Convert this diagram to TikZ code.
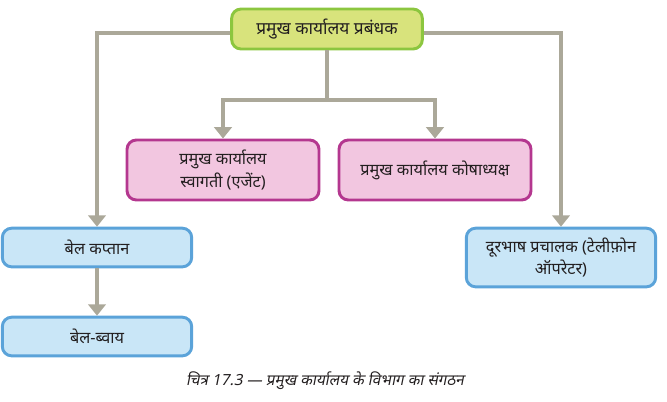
\documentclass[tikz,border=0pt]{standalone}
\usepackage{fontspec}
\newfontfamily\deva[Script=Devanagari]{Noto Sans}
\newfontfamily\devaslant[Script=Devanagari,FakeSlant=0.2]{Noto Sans}
\usetikzlibrary{arrows.meta}
\definecolor{topfill}{HTML}{D8E37C}
\definecolor{topdraw}{HTML}{8CC63F}
\definecolor{pinkfill}{HTML}{F2C6E0}
\definecolor{pinkdraw}{HTML}{B4378F}
\definecolor{bluefill}{HTML}{C9E6F7}
\definecolor{bluedraw}{HTML}{5BA3D9}
\definecolor{linecol}{HTML}{ABA899}
\definecolor{txt}{HTML}{231F20}
\tikzset{
  box/.style={rounded corners=7pt, line width=2.2pt, align=center, inner sep=0pt, font=\deva\fontsize{12.2}{17}\selectfont, text=txt},
  topbox/.style={box, fill=topfill, draw=topdraw, font=\deva\bfseries\fontsize{13}{17}\selectfont},
  pinkbox/.style={box, fill=pinkfill, draw=pinkdraw},
  bluebox/.style={box, fill=bluefill, draw=bluedraw},
  conn/.style={draw=linecol, line width=2.4pt},
  arr/.style={conn, -{Triangle[width=13pt,length=8.5pt]}}
}
\begin{document}
\begin{tikzpicture}[x=0.75pt,y=-0.75pt]
\useasboundingbox (0,0) rectangle (667,401);
\node[topbox, minimum width=143pt, minimum height=30pt] (top) at (327,29) {प्रमुख कार्यालय प्रबंधक};
\node[pinkbox, minimum width=144pt, minimum height=45pt] (agent) at (223,170) {प्रमुख कार्यालय\\स्वागती (एजेंट)};
\node[pinkbox, minimum width=144pt, minimum height=45pt] (treas) at (435,170) {प्रमुख कार्यालय कोषाध्यक्ष};
\node[bluebox, minimum width=142pt, minimum height=29pt] (bcap) at (97,247.5) {बेल कप्तान};
\node[bluebox, minimum width=142pt, minimum height=29pt] (bboy) at (97,336.5) {बेल-ब्वाय};
\node[bluebox, minimum width=142pt, minimum height=44pt] (tel) at (561,257.5) {दूरभाष प्रचालक (टेलीफ़ोन\\ऑपरेटर)};
\coordinate (mid) at (327,100);
\draw[arr] (top.west |- 0,33) -| (bcap.north);
\draw[arr] (top.east |- 0,33) -| (tel.north);
\draw[conn] (top.south) -- (mid);
\draw[arr] (mid) -| (agent.north);
\draw[arr] (mid) -| (treas.north);
\draw[arr] (bcap.south) -- (bboy.north);
\node[font=\devaslant\fontsize{11.5}{14}\selectfont, text=txt] (cap) at (325,381) {चित्र 17.3 — प्रमुख कार्यालय के विभाग का संगठन};
\end{tikzpicture}
\end{document}
